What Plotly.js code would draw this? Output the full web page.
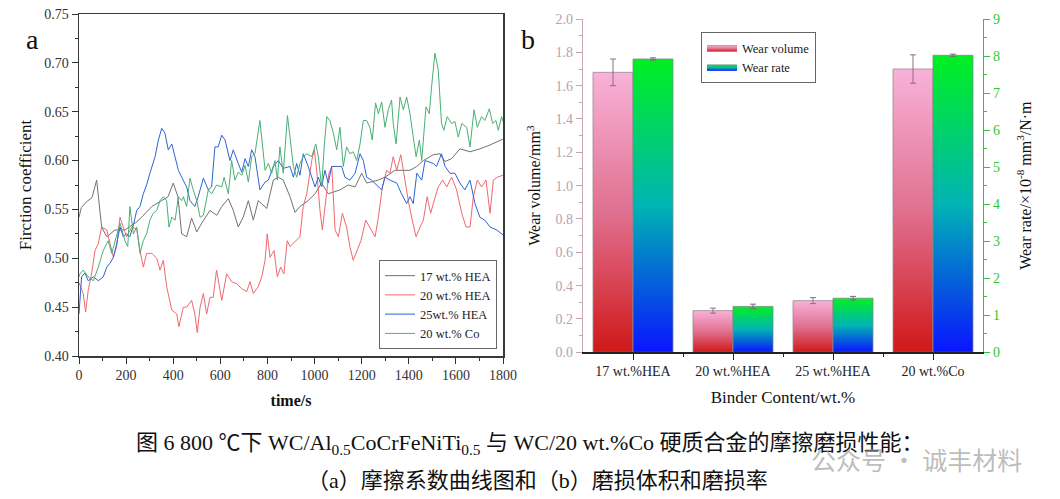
<!DOCTYPE html>
<html>
<head>
<meta charset="utf-8">
<script src="https://cdn.plot.ly/plotly-3.0.1.min.js"></script>
<style>html,body{margin:0;padding:0;background:#fff;}#chart{width:1060px;height:499px;}</style>
</head>
<body>
<div id="chart"></div>
<script>
// ---------- Panel a: friction coefficient vs time ----------
const t17 = [0,10,33,55,75,96,118,153,195,238,266,309,351,378,400,420,436,457,478,500,521,556,585,606,634,655,676,697,719,740,761,797,825,846,867,896,917,938,973,1002,1030,1058,1108,1143,1172,1200,1221,1270,1299,1341,1405,1434,1462,1504,1532,1554,1582,1617,1660,1702,1745,1794,1800];
const f17 = [0.542,0.552,0.558,0.562,0.580,0.532,0.522,0.529,0.529,0.536,0.542,0.553,0.559,0.563,0.577,0.563,0.525,0.522,0.541,0.527,0.536,0.549,0.544,0.553,0.561,0.549,0.532,0.542,0.559,0.539,0.559,0.551,0.580,0.583,0.580,0.563,0.547,0.553,0.559,0.566,0.577,0.566,0.570,0.575,0.573,0.587,0.577,0.580,0.583,0.590,0.590,0.594,0.600,0.606,0.607,0.599,0.602,0.612,0.609,0.612,0.616,0.621,0.622];

const t20 = [0,18,28,39,54,68,82,96,118,132,146,160,174,188,202,224,245,259,273,287,309,330,344,358,372,394,415,424,443,457,478,492,502,514,528,542,556,570,584,606,627,648,669,690,712,726,740,761,776,790,799,811,828,842,856,870,884,896,910,938,952,967,988,999,1009,1023,1033,1047,1061,1073,1087,1101,1118,1136,1150,1164,1179,1197,1217,1235,1257,1271,1288,1306,1320,1334,1349,1366,1384,1398,1412,1431,1448,1462,1478,1493,1504,1525,1544,1561,1582,1603,1625,1643,1660,1674,1691,1709,1728,1745,1759,1776,1800];
const f20 = [0.475,0.464,0.445,0.467,0.485,0.508,0.515,0.532,0.529,0.515,0.501,0.512,0.542,0.532,0.522,0.532,0.530,0.508,0.491,0.505,0.505,0.500,0.488,0.498,0.471,0.447,0.443,0.430,0.450,0.450,0.457,0.443,0.424,0.450,0.464,0.443,0.460,0.460,0.488,0.457,0.484,0.476,0.474,0.469,0.466,0.476,0.464,0.471,0.481,0.498,0.525,0.501,0.508,0.481,0.491,0.484,0.518,0.512,0.515,0.522,0.553,0.566,0.600,0.611,0.590,0.549,0.529,0.556,0.587,0.594,0.529,0.522,0.546,0.532,0.512,0.498,0.508,0.518,0.539,0.532,0.522,0.542,0.573,0.590,0.587,0.604,0.590,0.606,0.577,0.559,0.542,0.522,0.532,0.539,0.563,0.546,0.556,0.573,0.580,0.573,0.583,0.570,0.546,0.532,0.532,0.563,0.580,0.573,0.580,0.546,0.580,0.583,0.585];

const t25 = [0,4,11,25,39,61,82,103,118,132,146,160,174,188,202,216,231,245,259,273,287,301,323,337,351,365,379,394,408,422,436,457,471,492,506,528,549,563,577,591,606,620,641,655,676,691,705,719,733,747,768,790,804,825,846,867,896,910,924,938,952,973,1002,1016,1030,1044,1058,1073,1115,1129,1150,1172,1193,1207,1221,1242,1285,1299,1320,1349,1369,1391,1405,1419,1434,1455,1469,1504,1518,1539,1554,1575,1596,1617,1638,1660,1681,1702,1723,1745,1773,1800];
const f25 = [0.443,0.454,0.481,0.485,0.477,0.481,0.477,0.481,0.491,0.495,0.501,0.515,0.532,0.522,0.525,0.522,0.534,0.549,0.553,0.566,0.575,0.587,0.604,0.621,0.633,0.628,0.611,0.617,0.604,0.590,0.583,0.573,0.559,0.553,0.563,0.582,0.570,0.573,0.614,0.614,0.626,0.621,0.600,0.611,0.597,0.588,0.602,0.594,0.611,0.604,0.570,0.578,0.580,0.594,0.600,0.592,0.594,0.583,0.597,0.585,0.607,0.594,0.573,0.583,0.573,0.590,0.577,0.594,0.594,0.583,0.580,0.587,0.607,0.600,0.583,0.580,0.570,0.583,0.580,0.577,0.566,0.556,0.563,0.556,0.587,0.580,0.600,0.597,0.594,0.607,0.594,0.587,0.587,0.577,0.570,0.580,0.556,0.542,0.539,0.532,0.529,0.524];

const tCo = [0,4,18,39,61,82,103,124,139,160,174,195,207,216,231,245,259,273,287,301,315,330,344,358,372,382,394,408,422,436,443,457,471,485,500,514,528,549,563,584,606,616,634,648,662,676,691,705,719,733,747,768,780,790,804,818,832,842,853,867,885,900,910,924,938,952,967,988,1005,1016,1030,1041,1052,1065,1080,1094,1108,1122,1136,1150,1164,1179,1193,1207,1221,1235,1245,1259,1271,1285,1299,1313,1327,1334,1346,1363,1377,1391,1405,1419,1431,1445,1455,1473,1487,1497,1511,1525,1539,1549,1563,1582,1596,1610,1625,1646,1660,1677,1691,1709,1723,1742,1756,1770,1780,1794,1800];
const fCo = [0.481,0.484,0.488,0.481,0.477,0.491,0.508,0.518,0.505,0.525,0.536,0.518,0.512,0.553,0.525,0.532,0.505,0.518,0.525,0.539,0.546,0.549,0.559,0.563,0.559,0.532,0.542,0.539,0.563,0.559,0.563,0.553,0.582,0.570,0.559,0.542,0.544,0.570,0.566,0.575,0.573,0.583,0.566,0.600,0.580,0.588,0.585,0.595,0.578,0.604,0.607,0.641,0.611,0.590,0.597,0.587,0.600,0.580,0.614,0.587,0.646,0.617,0.594,0.583,0.597,0.604,0.607,0.604,0.617,0.604,0.573,0.614,0.645,0.641,0.628,0.611,0.634,0.594,0.614,0.607,0.609,0.600,0.617,0.641,0.641,0.634,0.621,0.659,0.648,0.660,0.634,0.652,0.662,0.638,0.617,0.665,0.652,0.665,0.648,0.624,0.604,0.621,0.600,0.655,0.648,0.676,0.710,0.693,0.638,0.631,0.645,0.638,0.640,0.624,0.638,0.634,0.614,0.652,0.634,0.645,0.641,0.653,0.638,0.641,0.631,0.645,0.640];

const lineNames = ['17 wt.% HEA', '20 wt.% HEA', '25wt.% HEA', '20 wt.% Co'];

// ---------- Panel b: wear volume and wear rate ----------
const categories = ['17 wt.%HEA', '20 wt.%HEA', '25 wt.%HEA', '20 wt.%Co'];
const wearVolume = [1.68, 0.25, 0.31, 1.70];
const wearVolumeErr = [0.08, 0.015, 0.018, 0.085];
const wearRate = [7.92, 1.24, 1.46, 8.02];
const wearRateErr = [0.03, 0.06, 0.05, 0.03];

const SERIF = '"Liberation Serif", "Noto Sans CJK SC", serif';
const traces = [];

const lineColors = ['#727272', '#f06870', '#2d64d8', '#48b075'];
[[t17,f17],[t20,f20],[t25,f25],[tCo,fCo]].forEach((s, i) => {
  traces.push({
    type: 'scatter', mode: 'lines', x: s[0], y: s[1], name: lineNames[i],
    xaxis: 'x', yaxis: 'y', legend: 'legend',
    line: {color: lineColors[i], width: 1},
    hoverinfo: 'skip'
  });
});

const BW = 0.4;
const volScale = [[0, '#d01818'], [0.5, '#e07090'], [1, '#f9b2d8']];
const rateScale = [[0, '#0a14ff'], [0.5, '#00b4b4'], [1, '#00f020']];
categories.forEach((c, i) => {
  traces.push({
    type: 'scatter', mode: 'lines', fill: 'toself',
    x: [i - BW, i - BW, i, i, i - BW], y: [0, wearVolume[i], wearVolume[i], 0, 0],
    xaxis: 'x2', yaxis: 'y2', legend: 'legend2',
    name: 'Wear volume', showlegend: i === 0, legendgroup: 'vol',
    line: {color: '#9a8a92', width: 0.8},
    fillgradient: {type: 'vertical', colorscale: volScale},
    hoverinfo: 'skip'
  });
});
categories.forEach((c, i) => {
  traces.push({
    type: 'scatter', mode: 'lines', fill: 'toself',
    x: [i, i, i + BW, i + BW, i], y: [0, wearRate[i], wearRate[i], 0, 0],
    xaxis: 'x2', yaxis: 'y3', legend: 'legend2',
    name: 'Wear rate', showlegend: i === 0, legendgroup: 'rate',
    line: {color: '#7a8a8a', width: 0.8},
    fillgradient: {type: 'vertical', colorscale: rateScale},
    hoverinfo: 'skip'
  });
});
// error bars
traces.push({
  type: 'scatter', mode: 'markers', x: categories.map((c, i) => i - BW / 2), y: wearVolume,
  xaxis: 'x2', yaxis: 'y2', showlegend: false, marker: {size: 1, opacity: 0},
  error_y: {type: 'data', array: wearVolumeErr, color: '#8c7080', thickness: 1, width: 3},
  hoverinfo: 'skip'
});
traces.push({
  type: 'scatter', mode: 'markers', x: categories.map((c, i) => i + BW / 2), y: wearRate,
  xaxis: 'x2', yaxis: 'y3', showlegend: false, marker: {size: 1, opacity: 0},
  error_y: {type: 'data', array: wearRateErr, color: '#707070', thickness: 1, width: 3},
  hoverinfo: 'skip'
});

const W = 1060, H = 499;
const px = v => v / W, py = v => (H - v) / H;

const layout = {
  width: W, height: H,
  margin: {l: 0, r: 0, t: 0, b: 0, autoexpand: false},
  paper_bgcolor: '#ffffff', plot_bgcolor: '#ffffff',
  font: {family: SERIF, color: '#222'},
  showlegend: true,
  xaxis: {
    domain: [px(79), px(503)], anchor: 'y', range: [0, 1800],
    tick0: 0, dtick: 200, ticks: 'outside', ticklen: 6, tickwidth: 1, tickcolor: '#333',
    minor: {dtick: 100, ticks: 'outside', ticklen: 3, tickcolor: '#333'},
    showline: true, linecolor: '#3a3a3a', linewidth: 1.5, mirror: true,
    showgrid: false, zeroline: false,
    tickfont: {family: SERIF, size: 14, color: '#333'},
    title: {text: '<b>time/s</b>', font: {family: SERIF, size: 16, color: '#111'}, standoff: 12}
  },
  yaxis: {
    domain: [py(356), py(14)], anchor: 'x', range: [0.40, 0.75],
    tick0: 0.4, dtick: 0.05, tickformat: '.2f', ticks: 'outside', ticklen: 6, tickcolor: '#333',
    minor: {dtick: 0.025, ticks: 'outside', ticklen: 3, tickcolor: '#333'},
    showline: true, linecolor: '#3a3a3a', linewidth: 1.5, mirror: true,
    showgrid: false, zeroline: false,
    tickfont: {family: SERIF, size: 14, color: '#333'},
    title: {text: 'Firction coefficient', font: {family: SERIF, size: 17, color: '#111'}, standoff: 8}
  },
  xaxis2: {
    domain: [px(583), px(983)], anchor: 'y2', range: [-0.5, 3.5],
    tickmode: 'array', tickvals: [0, 1, 2, 3], ticktext: categories,
    ticks: 'outside', ticklen: 6, tickcolor: '#222',
    minor: {tickmode: 'array', tickvals: [0.5, 1.5, 2.5], ticks: 'outside', ticklen: 3, tickcolor: '#222'},
    showline: true, linecolor: '#222', linewidth: 1.2,
    showgrid: false, zeroline: false,
    tickfont: {family: SERIF, size: 14, color: '#222'},
    title: {text: 'Binder Content/wt.%', font: {family: SERIF, size: 17, color: '#111'}, standoff: 12}
  },
  xaxis3: {
    overlaying: 'x2', anchor: 'y2', side: 'top', range: [-0.5, 3.5],
    tickmode: 'array', tickvals: [0, 0.5, 1, 1.5, 2, 2.5, 3], ticks: 'inside', ticklen: 5, tickcolor: '#333',
    showticklabels: false, showline: true, linecolor: '#555', linewidth: 1.2,
    showgrid: false, zeroline: false
  },
  yaxis2: {
    domain: [py(352.3), py(19)], anchor: 'x2', range: [0, 2.0],
    tick0: 0, dtick: 0.2, tickformat: '.1f', ticks: 'outside', ticklen: 6, tickcolor: '#c4a4b4',
    minor: {dtick: 0.1, ticks: 'outside', ticklen: 3, tickcolor: '#c4a4b4'},
    showline: true, linecolor: '#c8a8b8', linewidth: 1.2,
    showgrid: false, zeroline: false,
    tickfont: {family: SERIF, size: 14, color: '#b8a2ae'},
    title: {text: 'Wear volume/mm<sup>3</sup>', font: {family: SERIF, size: 16, color: '#111'}, standoff: 10}
  },
  yaxis3: {
    overlaying: 'y2', anchor: 'x2', side: 'right', range: [0, 9],
    tick0: 0, dtick: 1, ticks: 'outside', ticklen: 6, tickcolor: '#2fc82f',
    minor: {dtick: 0.5, ticks: 'outside', ticklen: 3, tickcolor: '#2fc82f'},
    showline: true, linecolor: '#2fc82f', linewidth: 1.2,
    showgrid: false, zeroline: false,
    tickfont: {family: SERIF, size: 14, color: '#2fc82f'},
    title: {text: 'Wear rate/×10<sup>-8</sup> mm<sup>3</sup>/N·m', font: {family: SERIF, size: 16, color: '#111'}, standoff: 20}
  },
  legend: {
    x: px(497), xanchor: 'right', y: py(349), yanchor: 'bottom',
    bgcolor: '#ffffff', bordercolor: '#666', borderwidth: 1,
    font: {family: SERIF, size: 12.5, color: '#222'}, itemwidth: 30, tracegroupgap: 0
  },
  legend2: {
    x: px(701), xanchor: 'left', y: py(32), yanchor: 'top',
    bgcolor: '#ffffff', bordercolor: '#666', borderwidth: 1,
    font: {family: SERIF, size: 12.5, color: '#222'}, itemwidth: 30, tracegroupgap: 0
  },
  annotations: [
    {text: 'a', xref: 'paper', yref: 'paper', x: px(24), y: py(22), showarrow: false, font: {family: SERIF, size: 28, color: '#111'}},
    {text: 'b', xref: 'paper', yref: 'paper', x: px(528), y: py(22), showarrow: false, font: {family: SERIF, size: 28, color: '#111'}},
    {text: '图 6 800 ℃下 WC/Al<sub>0.5</sub>CoCrFeNiTi<sub>0.5</sub> 与 WC/20 wt.%Co 硬质合金的摩擦磨损性能：', xref: 'paper', yref: 'paper', x: px(530), y: py(444), xanchor: 'center', yanchor: 'middle', showarrow: false, font: {family: SERIF, size: 22, color: '#111'}},
    {text: '（a）摩擦系数曲线图和（b）磨损体积和磨损率', xref: 'paper', yref: 'paper', x: px(537), y: py(480), xanchor: 'center', yanchor: 'middle', showarrow: false, font: {family: SERIF, size: 22, color: '#111'}},
    {text: '公众号 · 诚丰材料', xref: 'paper', yref: 'paper', x: px(916), y: py(459), xanchor: 'center', yanchor: 'middle', showarrow: false, font: {family: '"Noto Sans CJK SC", sans-serif', size: 25, color: 'rgba(150,150,150,0.65)'}}
  ]
};

Plotly.newPlot('chart', traces, layout, {staticPlot: true, displayModeBar: false});
</script>
</body>
</html>
